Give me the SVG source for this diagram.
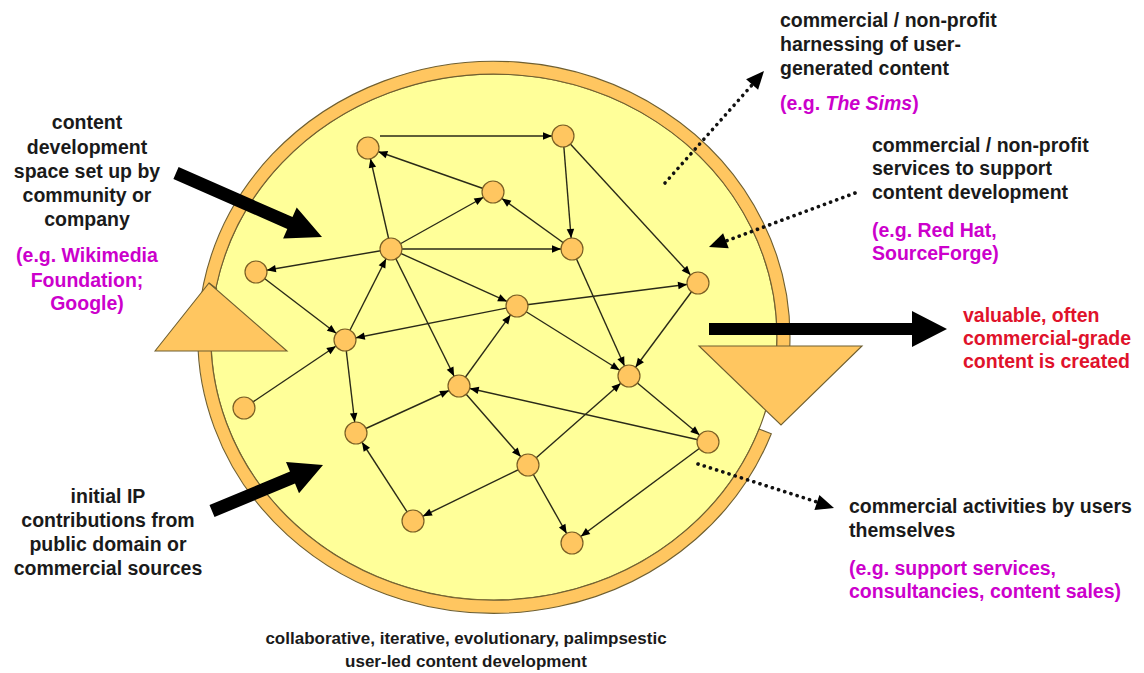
<svg xmlns="http://www.w3.org/2000/svg" width="1144" height="673" viewBox="0 0 1144 673">
<style>
text{font-family:"Liberation Sans",Arial,sans-serif;font-weight:bold;font-size:19.5px;fill:#1a1a1a}
.p{fill:#CC00CC}
.r{fill:#E0122B}
.s{font-size:17px}
.ring{fill:#FFC660;stroke:#6f5f30;stroke-width:1.1}
.node{fill:#FFC660;stroke:#7a5f25;stroke-width:1.2}
.e{stroke:#2a2a18;stroke-width:1.4;fill:none;marker-end:url(#ah)}
.dot{stroke:#111;stroke-width:3.6;stroke-linecap:round;stroke-dasharray:0.1 6.4;fill:none}
.big{fill:#000}
</style>
<defs>
<marker id="ah" markerUnits="userSpaceOnUse" markerWidth="30" markerHeight="10" refX="20" refY="3.75" orient="auto" overflow="visible">
<path d="M0,0 L9,3.75 L0,7.5 z" fill="#000"/>
</marker>
</defs>
<rect width="1144" height="673" fill="#fff"/>
<g id="cycle">
<ellipse cx="494" cy="337" rx="283" ry="263" fill="#FFFF99" stroke="#6f5f30" stroke-width="1.1"/>
<path class="ring" d="M771.3,433.7 A296,276 0 1 1 789.8,346.6 L776.8,346.2 A283,263 0 1 0 759.1,429.1 Z"/>
<polygon class="ring" points="155,351 209,283 287,351"/>
<polygon class="ring" points="699,346 862,346 781,425"/>
<line x1="209" y1="283" x2="217" y2="289" stroke="#6f5f30" stroke-width="1.1"/>
</g>
<g id="connectors">
<line class="e" x1="380" y1="136" x2="563" y2="136"/>
<line class="e" x1="493" y1="192" x2="368" y2="148"/>
<line class="e" x1="391" y1="249" x2="368" y2="148"/>
<line class="e" x1="391" y1="249" x2="493" y2="192"/>
<line class="e" x1="572" y1="249" x2="493" y2="192"/>
<line class="e" x1="563" y1="136" x2="572" y2="249"/>
<line class="e" x1="563" y1="136" x2="698" y2="283"/>
<line class="e" x1="391" y1="249" x2="572" y2="249"/>
<line class="e" x1="391" y1="249" x2="517" y2="306"/>
<line class="e" x1="517" y1="306" x2="698" y2="283"/>
<line class="e" x1="572" y1="249" x2="629" y2="376"/>
<line class="e" x1="391" y1="249" x2="256" y2="272"/>
<line class="e" x1="698" y1="283" x2="629" y2="376"/>
<line class="e" x1="345" y1="340" x2="391" y2="249"/>
<line class="e" x1="391" y1="249" x2="459" y2="386"/>
<line class="e" x1="517" y1="306" x2="345" y2="340"/>
<line class="e" x1="459" y1="386" x2="517" y2="306"/>
<line class="e" x1="517" y1="306" x2="629" y2="376"/>
<line class="e" x1="256" y1="272" x2="345" y2="340"/>
<line class="e" x1="244" y1="408" x2="345" y2="340"/>
<line class="e" x1="345" y1="340" x2="356" y2="433"/>
<line class="e" x1="356" y1="433" x2="459" y2="386"/>
<line class="e" x1="708" y1="442" x2="459" y2="386"/>
<line class="e" x1="459" y1="386" x2="528" y2="465"/>
<line class="e" x1="528" y1="465" x2="629" y2="376"/>
<line class="e" x1="629" y1="376" x2="708" y2="442"/>
<line class="e" x1="528" y1="465" x2="413" y2="521"/>
<line class="e" x1="413" y1="521" x2="356" y2="433"/>
<line class="e" x1="528" y1="465" x2="572" y2="543"/>
<line class="e" x1="708" y1="442" x2="572" y2="543"/>
</g>
<g id="nodes">
<circle id="n1" class="node" cx="368" cy="148" r="11"/>
<circle id="n2" class="node" cx="563" cy="136" r="11"/>
<circle id="n3" class="node" cx="493" cy="192" r="11"/>
<circle id="n4" class="node" cx="391" cy="249" r="11"/>
<circle id="n5" class="node" cx="572" cy="249" r="11"/>
<circle id="n6" class="node" cx="256" cy="272" r="11"/>
<circle id="n7" class="node" cx="698" cy="283" r="11"/>
<circle id="n8" class="node" cx="517" cy="306" r="11"/>
<circle id="n9" class="node" cx="345" cy="340" r="11"/>
<circle id="n10" class="node" cx="629" cy="376" r="11"/>
<circle id="n11" class="node" cx="459" cy="386" r="11"/>
<circle id="n12" class="node" cx="244" cy="408" r="11"/>
<circle id="n13" class="node" cx="356" cy="433" r="11"/>
<circle id="n14" class="node" cx="708" cy="442" r="11"/>
<circle id="n15" class="node" cx="528" cy="465" r="11"/>
<circle id="n16" class="node" cx="413" cy="521" r="11"/>
<circle id="n17" class="node" cx="572" cy="543" r="11"/>
</g>
<g id="big-arrows">
<polygon id="arrow-space" class="big" points="178.6,167.1 292.5,217.0 296.7,207.4 322,237 283.1,238.5 287.3,228.9 173.4,179.0"/>
<polygon id="arrow-ip" class="big" points="209.5,505.0 290.0,471.6 286.0,461.9 323,465 299.0,493.3 295.0,483.6 214.5,517.0"/>
<polygon id="arrow-output" class="big" points="709,323 912,323 912,311 947,329 912,347 912,335 709,335"/>
</g>
<g id="dotted-arrows">
<line class="dot" x1="665" y1="183" x2="752" y2="85"/>
<polygon points="764,71 758.1,89.8 746.1,79.2" fill="#000"/>
<line class="dot" x1="855" y1="193" x2="726" y2="241"/>
<polygon points="709,247 728.7,248.3 723.1,233.3" fill="#000"/>
<line class="dot" x1="698" y1="464" x2="817" y2="502"/>
<polygon points="834,508 814.4,510.1 819.4,494.9" fill="#000"/>
</g>
<g id="label-space">
<text x="87" y="129" text-anchor="middle">content</text>
<text x="87" y="154" text-anchor="middle">development</text>
<text x="87" y="178" text-anchor="middle">space set up by</text>
<text x="87" y="202" text-anchor="middle">community or</text>
<text x="87" y="226" text-anchor="middle">company</text>
<text class="p" x="87" y="262" text-anchor="middle">(e.g. Wikimedia</text>
<text class="p" x="87" y="287" text-anchor="middle">Foundation;</text>
<text class="p" x="87" y="310" text-anchor="middle">Google)</text>
</g>
<g id="label-ip">
<text x="108" y="503" text-anchor="middle">initial IP</text>
<text x="108" y="527" text-anchor="middle">contributions from</text>
<text x="108" y="551" text-anchor="middle">public domain or</text>
<text x="108" y="575" text-anchor="middle">commercial sources</text>
</g>
<g id="label-harness">
<text x="780" y="27">commercial / non-profit</text>
<text x="780" y="51">harnessing of user-</text>
<text x="780" y="75">generated content</text>
<text class="p" x="780" y="110">(e.g. <tspan font-style="italic">The Sims</tspan>)</text>
</g>
<g id="label-services">
<text x="872" y="152">commercial / non-profit</text>
<text x="872" y="175">services to support</text>
<text x="872" y="199">content development</text>
<text class="p" x="872" y="237">(e.g. Red Hat,</text>
<text class="p" x="872" y="260">SourceForge)</text>
</g>
<g id="label-output">
<text class="r" x="963" y="322">valuable, often</text>
<text class="r" x="963" y="345">commercial-grade</text>
<text class="r" x="963" y="368">content is created</text>
</g>
<g id="label-users">
<text x="849" y="513">commercial activities by users</text>
<text x="849" y="537">themselves</text>
<text class="p" x="849" y="575">(e.g. support services,</text>
<text class="p" x="849" y="598">consultancies, content sales)</text>
</g>
<g id="label-bottom">
<text class="s" x="466" y="644" text-anchor="middle">collaborative, iterative, evolutionary, palimpsestic</text>
<text class="s" x="466" y="667" text-anchor="middle">user-led content development</text>
</g>
</svg>
